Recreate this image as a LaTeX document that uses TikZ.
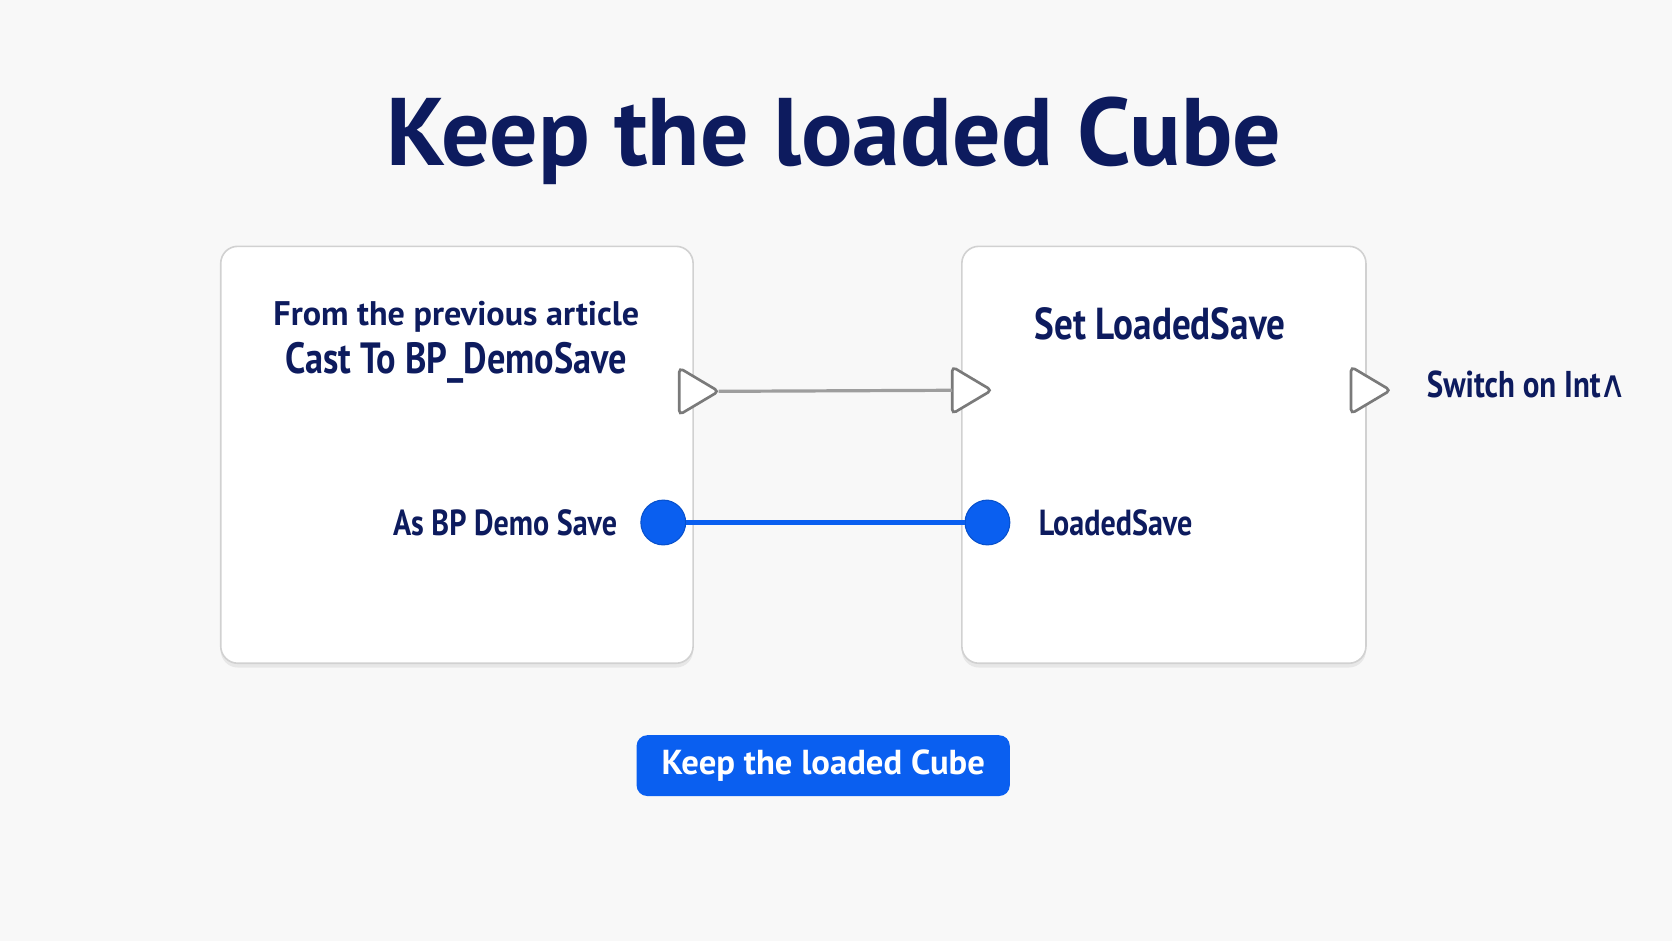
\documentclass[tikz,border=0pt]{standalone}
\usepackage{fontspec}
\setmainfont{PT Sans}
\newfontfamily\labelfont{PT Sans}[FakeStretch=0.83]
\newfontfamily\wedgefont{DejaVu Sans}
\usetikzlibrary{shadows}
\definecolor{navy}{HTML}{0D1B5E}
\definecolor{pinblue}{HTML}{0A5FF0}
\definecolor{canvas}{HTML}{F8F8F8}
\definecolor{pingray}{HTML}{7A7A7A}
\tikzset{
	nodebox/.style = {
		rectangle,
		rounded corners=16pt,
		draw=black!18,
		line width=1.5pt,
		fill=white,
		drop shadow={shadow xshift=0pt, shadow yshift=-4pt, opacity=0.14}
	},
	label_text/.style = {
		text=navy,
		inner sep=0pt,
		font=\labelfont\bfseries\fontsize{35}{40}\selectfont
	},
	pin_data/.style = {
		circle,
		fill=pinblue,
		draw=pinblue!85!black,
		line width=1pt,
		minimum size=42pt,
		inner sep=0pt
	},
	wire_exec/.style = {
		draw=black!38,
		line width=3pt
	},
	wire_data/.style = {
		draw=pinblue,
		line width=4pt
	},
	button/.style = {
		rectangle,
		rounded corners=10pt,
		fill=pinblue,
		text=white,
		minimum width=350pt,
		minimum height=57pt,
		font=\bfseries\fontsize{32.5}{38}\selectfont
	},
	execpin/.pic = {
		\draw[draw=pingray, fill=white, line width=2.5pt, rounded corners=4pt]
			(-18,-22) -- (19,0) -- (-18,22) -- cycle;
		\coordinate (-in) at (-18,0);
		\coordinate (-out) at (19,0);
	}
}

\begin{document}
\begin{tikzpicture}[x=1pt, y=-1pt]
\fill[canvas] (0,0) rectangle (1568,882);
\useasboundingbox (0,0) rectangle (1568,882);

% title
\node[text=navy, inner sep=0pt, anchor=base, font=\bfseries\fontsize{90}{100}\selectfont] (title) at (782,155) {Keep the loaded Cube};

% the two nodes
\node[nodebox, minimum width=443pt, minimum height=391pt] (cast) at (428.5,426.5) {};
\node[nodebox, minimum width=379pt, minimum height=391pt] (set) at (1091.5,426.5) {};

\node[label_text, anchor=base, font=\bfseries\fontsize{32}{38}\selectfont] (cast_note) at (428,305) {From the previous article};
\node[label_text, anchor=base, font=\labelfont\bfseries\fontsize{41}{46}\selectfont] (cast_name) at (428,350) {Cast To BP\_DemoSave};
\node[label_text, anchor=base, font=\labelfont\bfseries\fontsize{42}{46}\selectfont] (set_name) at (1088,318) {Set LoadedSave};

% exec pins
\pic (cast_exec) at (655,367) {execpin};
\pic (set_exec) at (911,366) {execpin};
\pic (set_then) at (1285,366) {execpin};
\draw[wire_exec] (cast_exec-out) -- (set_exec-in);
\node[label_text, anchor=base west] (switch) at (1338,373) {Switch on Int\kern-1pt{\wedgefont\mdseries ∧}};

% data pins
\node[pin_data] (cast_as) at (622,490) {};
\node[pin_data] (set_in) at (926,490) {};
\draw[wire_data] (cast_as) -- (set_in);
\node[label_text, anchor=base east, font=\labelfont\bfseries\fontsize{34}{40}\selectfont] (cast_as_text) at (579,502) {As BP Demo Save};
\node[label_text, anchor=base west, font=\labelfont\bfseries\fontsize{34}{40}\selectfont] (set_in_text) at (974,502) {LoadedSave};

% caption button
\node[button] (caption) at (772,718) {Keep the loaded Cube};
\end{tikzpicture}
\end{document}
